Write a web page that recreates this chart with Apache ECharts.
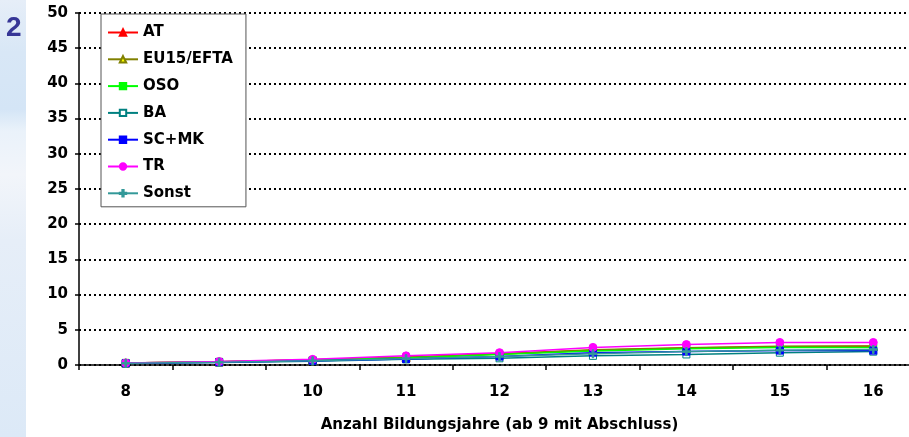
<!DOCTYPE html>
<html>
<head>
<meta charset="utf-8">
<script src="https://cdn.jsdelivr.net/npm/echarts@6/dist/echarts.min.js"></script>
<style>
html,body{margin:0;padding:0;background:#fff;}
#c{width:909px;height:437px;}
</style>
</head>
<body>
<div id="c"></div>
<script>
const categories = ['8','9','10','11','12','13','14','15','16'];
const yTicks = [0,5,10,15,20,25,30,35,40,45,50];
const seriesNames = ['AT','EU15/EFTA','OSO','BA','SC+MK','TR','Sonst'];
const AT    = [0.30,0.45,0.75,1.10,1.55,2.10,2.40,2.60,2.65];
const EU15  = [0.30,0.45,0.75,1.10,1.60,2.15,2.45,2.65,2.70];
const OSO   = [0.30,0.45,0.70,1.00,1.50,2.00,2.30,2.50,2.50];
const BA    = [0.20,0.35,0.55,0.80,0.95,1.30,1.50,1.75,1.90];
const SCMK  = [0.25,0.40,0.60,0.85,1.20,1.75,1.90,2.05,2.05];
const TR    = [0.30,0.50,0.80,1.30,1.75,2.50,2.90,3.20,3.20];
const Sonst = [0.25,0.40,0.60,0.90,1.20,1.60,1.90,2.10,2.20];

const plusPath = 'path://M4,0 L6,0 L6,4 L10,4 L10,6 L6,6 L6,10 L4,10 L4,6 L0,6 L0,4 L4,4 Z';
const FONT = '"DejaVu Sans", sans-serif';
const FS = 15;

function mk(name, data, color, symbol, fill, size) {
  return {
    name: name, type: 'line', data: data,
    symbol: symbol, symbolSize: size || 7,
    showAllSymbol: true,
    lineStyle: {color: color, width: 1.5},
    itemStyle: {color: fill, borderColor: color, borderWidth: 1},
    emphasis: {disabled: true},
    z: 3
  };
}

const chart = echarts.init(document.getElementById('c'), null, {renderer: 'canvas'});
chart.setOption({
  backgroundColor: '#ffffff',
  animation: false,
  graphic: [
    {type: 'rect', left: 0, top: 0, z: -10, shape: {width: 26, height: 437},
     style: {fill: new echarts.graphic.LinearGradient(0,0,0,1,[
       {offset:0, color:'#e6eef8'},
       {offset:0.12, color:'#d8e7f6'},
       {offset:0.25, color:'#d4e5f6'},
       {offset:0.30, color:'#eaf2fa'},
       {offset:0.40, color:'#f2f5fa'},
       {offset:0.55, color:'#e6eef8'},
       {offset:1, color:'#dce9f7'}
     ])}},
    {type: 'text', left: 6, top: 14, z: 10,
     style: {text: '2', font: 'bold 28px "Liberation Sans", Arial, sans-serif', fill: '#363696'}}
  ],
  grid: {left: 79, right: -11, top: 13, bottom: 72, containLabel: false, outerBoundsMode: 'none'},
  legend: {
    orient: 'vertical', left: 101, top: 14,
    data: seriesNames,
    backgroundColor: '#ffffff',
    borderColor: '#555555', borderWidth: 1,
    padding: [11, 13, 6, 6],
    itemWidth: 30, itemHeight: 8, itemGap: 11.8,
    textStyle: {fontFamily: FONT, fontWeight: 'bold', fontSize: FS, color: '#000'},
    z: 10
  },
  xAxis: {
    type: 'category', data: categories, boundaryGap: true,
    name: 'Anzahl Bildungsjahre (ab 9 mit Abschluss)',
    nameLocation: 'middle', nameGap: 53,
    nameTextStyle: {fontFamily: FONT, fontWeight: 'bold', fontSize: FS, color: '#000'},
    axisLine: {lineStyle: {color: '#000', width: 1.5}},
    axisTick: {show: true, length: 5, lineStyle: {color: '#000', width: 1.5}},
    axisLabel: {margin: 20, fontFamily: FONT, fontWeight: 'bold', fontSize: FS, color: '#000'},
    splitLine: {show: false}
  },
  yAxis: {
    type: 'value', min: 0, max: 50, interval: 5,
    axisLine: {show: true, lineStyle: {color: '#000', width: 1.5}},
    axisTick: {show: true, length: 4, lineStyle: {color: '#000', width: 1.5}},
    axisLabel: {margin: 11, fontFamily: FONT, fontWeight: 'bold', fontSize: FS, color: '#000',
      formatter: v => yTicks.indexOf(v) >= 0 ? String(v) : ''},
    splitLine: {show: true, lineStyle: {color: '#000', width: 2, type: [2, 3]}}
  },
  series: [
    mk('AT', AT, '#ff0000', 'triangle', '#ff0000', 8),
    mk('EU15/EFTA', EU15, '#808000', 'triangle', '#ffff00', 8),
    mk('OSO', OSO, '#00ff00', 'rect', '#00ff00', 7),
    mk('BA', BA, '#008080', 'rect', '#ffffff', 7),
    mk('SC+MK', SCMK, '#0000ff', 'rect', '#0000ff', 7),
    mk('TR', TR, '#ff00ff', 'circle', '#ff00ff', 8),
    mk('Sonst', Sonst, '#339999', plusPath, '#339999', 8)
  ]
});
</script>
</body>
</html>
